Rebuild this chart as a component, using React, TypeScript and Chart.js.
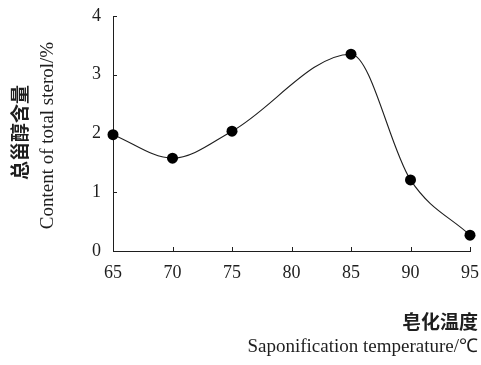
import React, { useEffect, useRef } from "react";
import { Chart, registerables } from "chart.js";

Chart.register(...registerables);

// Data
const pointTemps = [65, 70, 75, 85, 90, 95];
const sterolContent = [1.98, 1.58, 2.04, 3.35, 1.21, 0.27];
const xMin = 65;
const xMax = 95;
const xStep = 5;
const yMin = 0;
const yMax = 4;
const yStep = 1;

const yTitleZh = "总甾醇含量";
const yTitleEn = "Content of total sterol/%";
const xTitleZh = "皂化温度";
const xTitleEn = "Saponification temperature/℃";

const SERIF = '"Liberation Serif", "Times New Roman", serif';
const CJK = '"Noto Sans CJK SC", sans-serif';
const INK = "#1e1e1e";

const decorPlugin = {
  id: "decor",
  beforeDatasetsDraw(chart: any) {
    const ctx = chart.ctx;
    const { bottom, left } = chart.chartArea;
    const xs = chart.scales.x;
    const ys = chart.scales.y;
    ctx.save();
    ctx.strokeStyle = INK;
    ctx.lineWidth = 1;
    xs.ticks.forEach((t: any) => {
      const px = Math.round(xs.getPixelForValue(t.value)) + 0.5;
      ctx.beginPath();
      ctx.moveTo(px, bottom);
      ctx.lineTo(px, bottom - 4);
      ctx.stroke();
    });
    ys.ticks.forEach((t: any) => {
      const py = Math.round(ys.getPixelForValue(t.value)) + 0.5;
      ctx.beginPath();
      ctx.moveTo(left, py);
      ctx.lineTo(left + 4, py);
      ctx.stroke();
    });
    ctx.restore();
  },
  afterDraw(chart: any) {
    const ctx = chart.ctx;
    const { top, bottom } = chart.chartArea;
    const midY = (top + bottom) / 2;
    ctx.save();
    ctx.fillStyle = INK;
    ctx.textAlign = "center";
    ctx.textBaseline = "middle";
    // Y titles (rotated)
    ctx.save();
    ctx.translate(20, midY - 1);
    ctx.rotate(-Math.PI / 2);
    ctx.font = `bold 19px ${CJK}`;
    ctx.fillText(yTitleZh, 0, 0);
    ctx.restore();
    ctx.save();
    ctx.translate(48, midY + 2);
    ctx.rotate(-Math.PI / 2);
    ctx.font = `19px ${SERIF}`;
    ctx.fillText(yTitleEn, 0, 0);
    ctx.restore();
    // X titles (right aligned)
    ctx.textAlign = "right";
    ctx.font = `bold 19px ${CJK}`;
    ctx.fillText(xTitleZh, 478, 322);
    ctx.font = `19px ${SERIF}`;
    ctx.fillText(xTitleEn, 478, 347);
    ctx.restore();
  },
};

export default function App() {
  const canvasRef = useRef<HTMLCanvasElement | null>(null);

  useEffect(() => {
    if (!canvasRef.current) return;
    const chart = new Chart(canvasRef.current, {
      type: "scatter",
      data: {
        datasets: [
          {
            data: pointTemps.map((x, i) => ({ x, y: sterolContent[i] })),
            showLine: true,
            borderColor: INK,
            borderWidth: 1.1,
            backgroundColor: "#000",
            pointBackgroundColor: "#000",
            pointBorderColor: "#000",
            pointRadius: 5.5,
            pointBorderWidth: 0,
            cubicInterpolationMode: "monotone",
            clip: false,
          } as any,
        ],
      },
      plugins: [decorPlugin],
      options: {
        responsive: false,
        maintainAspectRatio: false,
        animation: false,
        layout: { padding: { left: 0, top: 16, right: 11, bottom: 0 } },
        plugins: {
          legend: { display: false },
          tooltip: { enabled: false },
          title: { display: false },
        },
        scales: {
          x: {
            type: "linear",
            position: "bottom",
            min: xMin,
            max: xMax,
            grid: { display: false, drawTicks: false },
            border: { display: true, color: INK, width: 1 },
            ticks: {
              stepSize: xStep,
              padding: 11,
              color: INK,
              font: { family: SERIF, size: 18 },
            },
            afterFit: (scale: any) => {
              scale.height = 114;
              scale.paddingLeft = 0;
              scale.paddingRight = 0;
            },
          },
          y: {
            type: "linear",
            min: yMin,
            max: yMax,
            grid: { display: false, drawTicks: false },
            border: { display: true, color: INK, width: 1 },
            ticks: {
              stepSize: yStep,
              padding: 12,
              color: INK,
              font: { family: SERIF, size: 18 },
            },
            afterFit: (scale: any) => {
              scale.width = 113;
              scale.paddingTop = 0;
              scale.paddingBottom = 0;
            },
          },
        },
      } as any,
    });
    return () => chart.destroy();
  }, []);

  return (
    <div style={{ position: "absolute", left: 0, top: 0, width: 481, height: 365, background: "#fff" }}>
      <canvas ref={canvasRef} width={481} height={365} style={{ display: "block" }} />
    </div>
  );
}
